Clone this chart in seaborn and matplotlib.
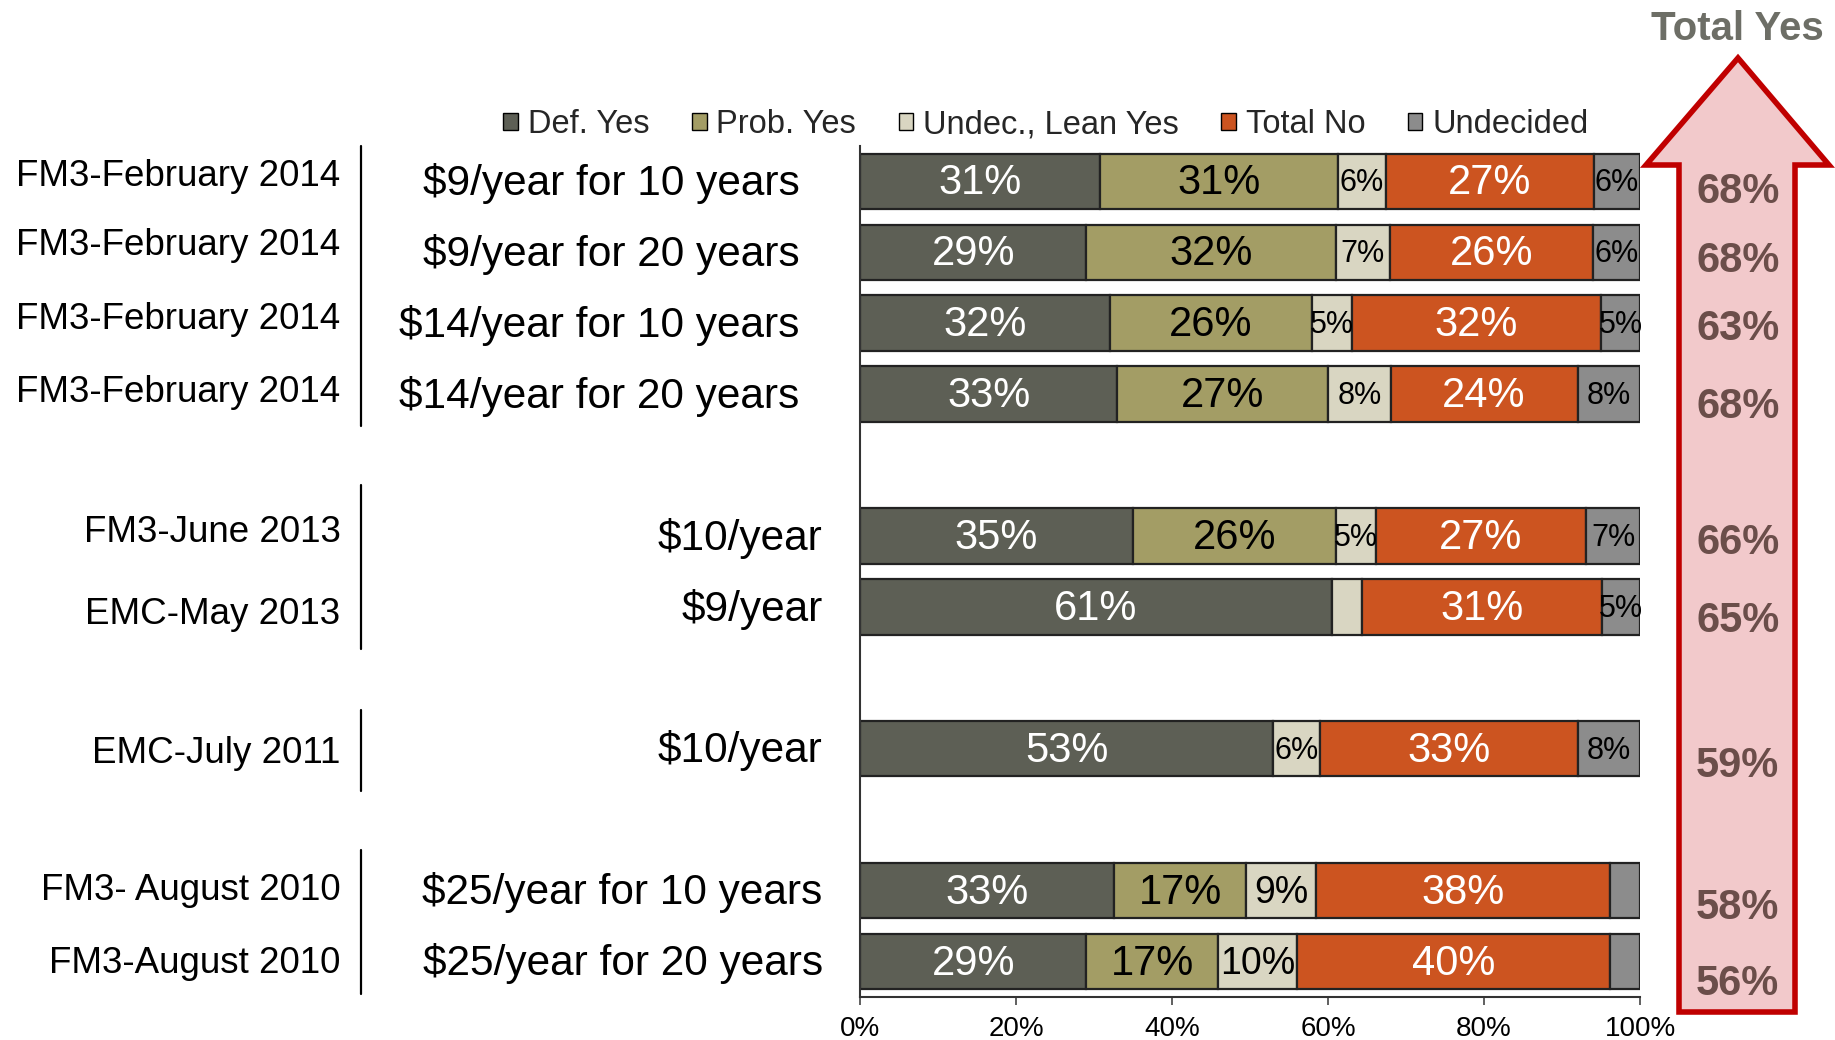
import numpy as np
import pandas as pd
import matplotlib
matplotlib.use("Agg")
import matplotlib.pyplot as plt
import matplotlib.transforms as mtransforms
from matplotlib.patches import Patch, Polygon
import seaborn as sns

# ---------------- data ----------------
dates = ["FM3-February 2014", "FM3-February 2014", "FM3-February 2014", "FM3-February 2014",
         "FM3-June 2013", "EMC-May 2013", "EMC-July 2011", "FM3- August 2010", "FM3-August 2010"]
costs = ["$9/year for 10 years", "$9/year for 20 years", "$14/year for 10 years",
         "$14/year for 20 years", "$10/year", "$9/year", "$10/year",
         "$25/year for 10 years", "$25/year for 20 years"]
rows = [0, 1, 2, 3, 5, 6, 8, 10, 11]

series_names = ["Def. Yes", "Prob. Yes", "Undec., Lean Yes", "Total No", "Undecided"]
def_yes = [30.7, 29.0, 32.0, 33.0, 35.0, 60.5, 53.0, 32.6, 29.0]
prob_yes = [30.6, 32.0, 26.0, 27.0, 26.0, 0.0, 0.0, 16.9, 16.9]
undec_lean = [6.1, 6.9, 5.0, 8.0, 5.1, 3.9, 6.0, 8.9, 10.1]
total_no = [26.7, 26.1, 32.0, 24.0, 27.0, 30.7, 33.0, 37.8, 40.1]
undecided = [5.9, 6.0, 5.0, 8.0, 6.9, 4.9, 8.0, 3.8, 3.9]

def_lbl = ["31%", "29%", "32%", "33%", "35%", "61%", "53%", "33%", "29%"]
prob_lbl = ["31%", "32%", "26%", "27%", "26%", "", "", "17%", "17%"]
undec_lbl = ["6%", "7%", "5%", "8%", "5%", "", "6%", "9%", "10%"]
no_lbl = ["27%", "26%", "32%", "24%", "27%", "31%", "33%", "38%", "40%"]
und_lbl = ["6%", "6%", "5%", "8%", "7%", "5%", "8%", "", ""]

total_yes = ["68%", "68%", "63%", "68%", "66%", "65%", "59%", "58%", "56%"]
x_ticks = [0, 20, 40, 60, 80, 100]
x_tick_labels = ["0%", "20%", "40%", "60%", "80%", "100%"]

# ---------------- style ----------------
colors = ["#5D5F55", "#A39D65", "#D9D6C2", "#CC5420", "#8C8C8C"]
label_colors = ["white", "black", "black", "white", "black"]
label_sizes = [30, 30, 22, 30, 22]
TEXT_DY = 0.03  # small downward nudge for text (data units)

sns.set_theme(style="white")
plt.rcParams["font.family"] = ["Liberation Sans", "DejaVu Sans"]

fig = plt.figure(figsize=(18.35, 10.4), dpi=100)
fig.patch.set_facecolor("white")
ax = fig.add_axes([0.4687, 0.0413, 0.4251, 0.8185])

series = [def_yes, prob_yes, undec_lean, total_no, undecided]
labels = [def_lbl, prob_lbl, undec_lbl, no_lbl, und_lbl]

left = np.zeros(len(rows))
for name, vals, col, lbls, tc, fs in zip(series_names, series, colors, labels,
                                        label_colors, label_sizes):
    df = pd.DataFrame({"row": rows, "val": vals})
    sns.barplot(data=df, x="val", y="row", orient="y", native_scale=True,
                left=left.copy(), color=col, width=0.78, saturation=1,
                edgecolor="#222222", linewidth=1.6, errorbar=None, ax=ax)
    for r, v, l, lab in zip(rows, vals, left, lbls):
        if lab:
            size = fs
            if fs == 22 and v >= 8.5 and name == "Undec., Lean Yes":
                size = 27
            ax.text(l + v / 2, r + TEXT_DY, lab, ha="center", va="center", color=tc,
                    fontsize=size)
    left = left + np.array(vals)

ax.set_xlim(0, 100)
ax.set_ylim(11.5, -0.5)
ax.set_xlabel("")
ax.set_ylabel("")
ax.set_yticks([])
ax.set_xticks(x_ticks)
ax.set_xticklabels(x_tick_labels, fontsize=20, color="black")
ax.tick_params(axis="x", direction="out", length=6, width=1.2, color="#444444",
               bottom=True, pad=8)
for s in ["top", "right"]:
    ax.spines[s].set_visible(False)
for s in ["left", "bottom"]:
    ax.spines[s].set_color("#333333")
    ax.spines[s].set_linewidth(1.5)

# ---------------- left-side labels ----------------
blend = mtransforms.blended_transform_factory(fig.transFigure, ax.transData)
date_offsets = [-0.1, -0.13, -0.08, -0.05, -0.08, 0.08, 0.03, -0.03, 0.0]
cost_right = [0.4356, 0.4356, 0.4356, 0.4356, 0.4483, 0.4483, 0.4483, 0.4483, 0.4483]
for r, d, c, off, cr in zip(rows, dates, costs, date_offsets, cost_right):
    fig.text(0.1856, r + off + TEXT_DY, d, transform=blend, ha="right", va="center",
             fontsize=26.5, color="black")
    fig.text(cr, r + TEXT_DY, c, transform=blend, ha="right", va="center",
             fontsize=30.5, color="black")

# group separator lines (extent in row units)
groups = [(-0.5, 3.45), (4.28, 6.6), (7.45, 8.6), (9.43, 11.45)]
for a, b in groups:
    line = plt.Line2D([0.197, 0.197], [a, b], transform=blend,
                      color="black", linewidth=1.6)
    fig.add_artist(line)

# ---------------- legend ----------------
handles = [Patch(facecolor=c, edgecolor="black", linewidth=1.0) for c in colors]
fig.legend(handles, series_names, loc="center", bbox_to_anchor=(0.570, 0.880),
           bbox_transform=fig.transFigure, ncol=5, frameon=False, fontsize=23.5,
           handlelength=0.45, handleheight=0.45, handletextpad=0.3,
           columnspacing=1.3, borderpad=0)

# ---------------- Total Yes arrow ----------------
H = 1040.0
W = 1835.0
pts_px = [(1738, 58), (1829, 165), (1795, 165), (1795, 1012), (1679, 1012),
          (1679, 165), (1646, 165)]
pts = [(x / W, 1 - y / H) for x, y in pts_px]
arrow = Polygon(pts, closed=True, transform=fig.transFigure, facecolor="#F2C9CB",
                edgecolor="#C00000", linewidth=4, joinstyle="miter")
fig.add_artist(arrow)

fig.text(0.947, 1 - 29 / H, "Total Yes", ha="center", va="center", fontsize=29,
         fontweight="bold", color="#6D6E66")
ty_offsets = [0.12, 0.1, 0.05, 0.15, 0.07, 0.17, 0.21, 0.21, 0.28]
for r, t, off in zip(rows, total_yes, ty_offsets):
    fig.text(0.947, r + off + TEXT_DY, t, transform=blend, ha="center", va="center",
             fontsize=30, fontweight="bold", color="#6B4E4A")

fig.savefig("out.png", dpi=100, facecolor="white")
